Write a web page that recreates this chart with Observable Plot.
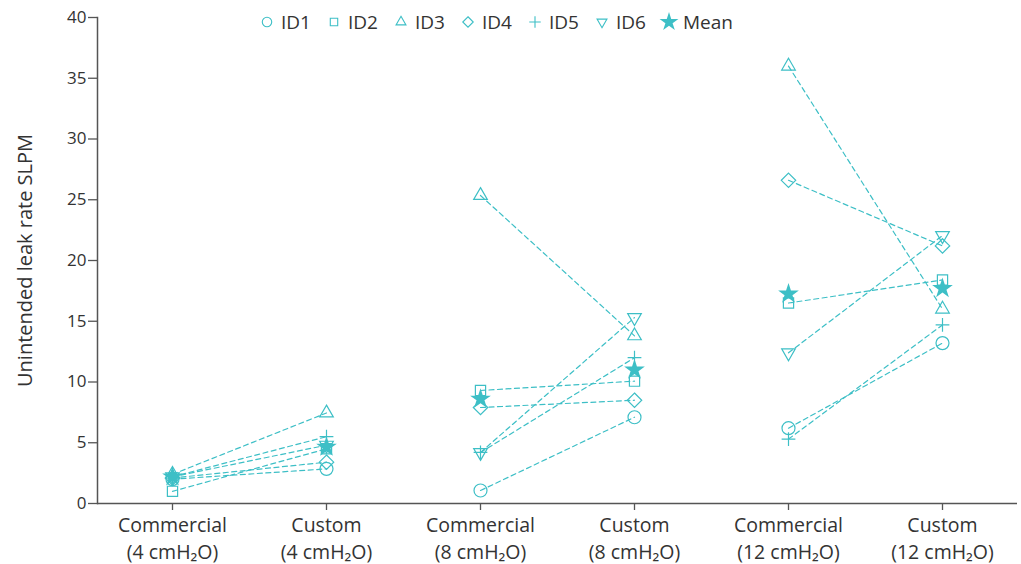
<!DOCTYPE html>
<html>
<head>
<meta charset="utf-8">
<script src="https://cdn.jsdelivr.net/npm/d3@7"></script>
<script src="https://cdn.jsdelivr.net/npm/@observablehq/plot@0.6"></script>
<style>
  html, body { margin: 0; padding: 0; background: #fff; }
  #wrap { position: relative; width: 1021px; height: 564px; font-family: "Open Sans", Roboto, sans-serif; }
  #legend { position: absolute; left: 261px; top: 9px; display: flex; align-items: center; font-size: 19px; color: #333; }
  #legend .item { display: flex; align-items: center; width: 67px; }
  #legend .item:last-child { width: auto; }
  #legend svg { margin-right: 8px; overflow: visible; }
</style>
</head>
<body>
<div id="wrap"></div>
<script>
// ---- data ----
const conditions = ["C4", "U4", "C8", "U8", "C12", "U12"];
const tickLabels = [
  "Commercial\n(4 cmH₂O)", "Custom\n(4 cmH₂O)",
  "Commercial\n(8 cmH₂O)", "Custom\n(8 cmH₂O)",
  "Commercial\n(12 cmH₂O)", "Custom\n(12 cmH₂O)"
];
const pressures = ["4", "4", "8", "8", "12", "12"];
const ids = ["ID1", "ID2", "ID3", "ID4", "ID5", "ID6"];
const id1 = [2.0, 2.85, 1.07, 7.1, 6.2, 13.2];
const id2 = [1.0, 4.5, 9.3, 10.07, 16.5, 18.4];
const id3 = [2.4, 7.45, 25.35, 13.8, 36.0, 16.0];
const id4 = [2.1, 3.4, 7.9, 8.5, 26.6, 21.2];
const id5 = [2.2, 5.5, 4.2, 12.0, 5.3, 14.7];
const id6 = [2.2, 4.8, 4.2, 15.3, 12.4, 22.05];
const mean = [2.2, 4.65, 8.6, 11.0, 17.25, 17.7];
const yTicks = [0, 5, 10, 15, 20, 25, 30, 35, 40];

// ---- build table ----
const teal = "#3dbfc6";
const series = [id1, id2, id3, id4, id5, id6];
const triDown = {
  draw(context, size) {
    const s = Math.sqrt(size) * 0.6824, t = s / 2, u = s * Math.sqrt(3) / 2;
    context.moveTo(0, s); context.lineTo(u, -t); context.lineTo(-u, -t); context.closePath();
  }
};
const symbols = [d3.symbolCircle, d3.symbolSquare2, d3.symbolTriangle2, d3.symbolDiamond2, d3.symbolPlus, triDown];
const rows = [];
series.forEach((vals, i) => vals.forEach((v, j) => rows.push({id: ids[i], cond: conditions[j], group: ids[i] + "-" + pressures[j], value: v})));
const meanRows = mean.map((v, j) => ({cond: conditions[j], value: v}));
const labelOf = Object.fromEntries(conditions.map((c, i) => [c, tickLabels[i]]));
const font = "'Open Sans', Roboto, sans-serif";

const chart = Plot.plot({
  width: 1021,
  height: 564,
  marginTop: 17,
  marginBottom: 61,
  marginLeft: 97,
  marginRight: 4,
  style: {fontFamily: font, fontSize: "17px", color: "#333", background: "white"},
  x: {type: "point", domain: conditions, padding: 0.48},
  y: {domain: [0, 40]},
  symbol: {domain: ids, range: symbols},
  marks: [
    Plot.line(rows, {x: "cond", y: "value", z: "group", stroke: teal, strokeWidth: 1.2, strokeDasharray: "5,3.5"}),
    Plot.dot(rows.filter(d => d.id !== "ID5"), {x: "cond", y: "value", symbol: "id", stroke: teal, fill: "none", strokeWidth: 1.2, r: 6.5}),
    Plot.dot(rows.filter(d => d.id === "ID5"), {x: "cond", y: "value", symbol: "id", stroke: teal, fill: "none", strokeWidth: 1.2, r: 4.5}),
    Plot.dot(meanRows, {x: "cond", y: "value", symbol: "star", fill: teal, stroke: "none", r: 6.5}),
    Plot.ruleY([0], {stroke: "#555", strokeWidth: 1.5}),
    Plot.frame({anchor: "left", stroke: "#555", strokeWidth: 1.5}),
    Plot.axisX({tickSize: 7, tickPadding: 3, tickFormat: d => labelOf[d], lineHeight: 1.35, fontSize: 19.5, stroke: "#555", fill: "#333", label: null, strokeWidth: 1.3}),
    Plot.axisY({ticks: yTicks, tickSize: 9, tickPadding: 2, fontSize: 17, stroke: "#555", fill: "#333", strokeWidth: 1.3,
      label: "Unintended leak rate SLPM", labelAnchor: "center", labelOffset: 80, labelArrow: "none"})
  ]
});
const wrap = document.getElementById("wrap");
wrap.appendChild(chart);
d3.select(chart).selectAll("[aria-label='y-axis label'] text").style("font-size", "20px");

// ---- legend ----
const legend = document.createElement("div");
legend.id = "legend";
const legendNames = ids.concat(["Mean"]);
const legendSymbols = symbols.concat([d3.symbolStar]);
legendNames.forEach((name, i) => {
  const item = document.createElement("div");
  item.className = "item";
  const svg = d3.create("svg").attr("width", 12).attr("height", 14).attr("viewBox", "-6 -7 12 14");
  const isMean = name === "Mean";
  svg.append("path")
    .attr("d", d3.symbol(legendSymbols[i], isMean ? 110 : (name === "ID5" ? 45 : 70))())
    .attr("fill", isMean ? teal : "none")
    .attr("stroke", isMean ? "none" : teal)
    .attr("stroke-width", 1.1);
  item.appendChild(svg.node());
  const span = document.createElement("span");
  span.textContent = name;
  item.appendChild(span);
  legend.appendChild(item);
});
wrap.appendChild(legend);
</script>
</body>
</html>
